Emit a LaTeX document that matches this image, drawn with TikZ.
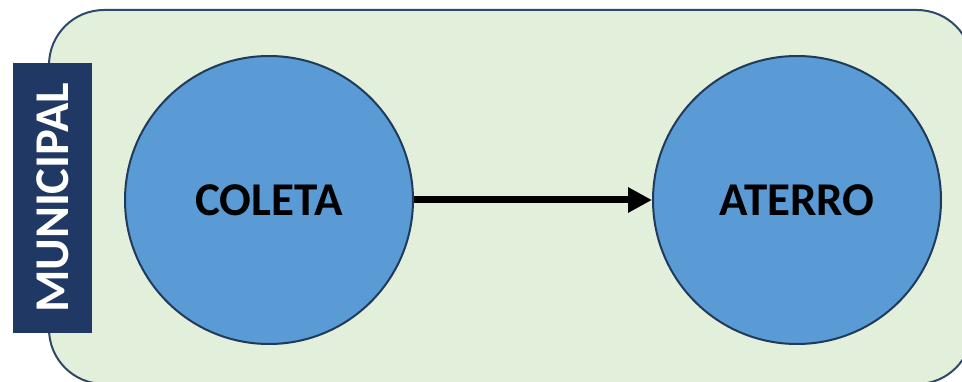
\documentclass[tikz,border=0pt]{standalone}
\usepackage{fontspec}
\setmainfont{Carlito}
\usetikzlibrary{arrows.meta}
\definecolor{bgfill}{HTML}{E2EFDA}
\definecolor{bgline}{HTML}{2F4A68}
\definecolor{circfill}{HTML}{5B9BD5}
\definecolor{circline}{HTML}{1F3A5A}
\definecolor{labelfill}{HTML}{203864}
\tikzset{
  stage/.style={circle, draw=circline, line width=2pt, fill=circfill, minimum size=288pt, inner sep=0pt,
    font=\fontsize{47}{50}\selectfont\bfseries, text=black},
  flow/.style={line width=7pt, -{Triangle[length=24pt,width=24pt]}},
  sidelabel/.style={fill=labelfill, minimum width=79pt, minimum height=270pt, inner sep=0pt}
}
\begin{document}
\begin{tikzpicture}[x=1pt,y=-1pt]
\useasboundingbox (0,0) rectangle (962,382);
\begin{scope}
\clip (0,0) rectangle (962,382);
\draw[fill=bgfill, draw=bgline, line width=2pt, rounded corners=55pt] (49,10) rectangle (972,384);
\end{scope}
\node[sidelabel] (lbl) at (52.5,198) {};
\node[font=\fontsize{48.5}{50}\selectfont\bfseries, text=white, rotate=90] (lbltext) at (lbl.center) {MUNICIPAL};
\node[stage] (coleta) at (269,200) {COLETA};
\node[stage] (aterro) at (797,200) {ATERRO};
\draw[flow] (coleta.east) -- (aterro.west);
\end{tikzpicture}
\end{document}
